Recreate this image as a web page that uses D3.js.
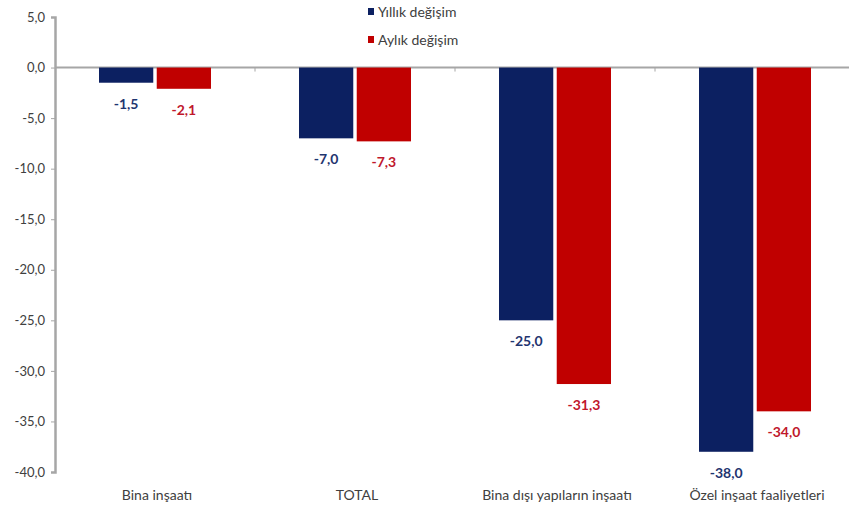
<!DOCTYPE html>
<html><head><meta charset="utf-8">
<script src="https://cdn.jsdelivr.net/npm/d3@7"></script>
<style>body{margin:0;background:#fff}svg{display:block}</style>
</head><body>
<svg id="chart" width="849" height="511"></svg>
<script>
const categories = ["Bina inşaatı", "TOTAL", "Bina dışı yapıların inşaatı", "Özel inşaat faaliyetleri"];
const seriesNames = ["Yıllık değişim", "Aylık değişim"];
const yillik = [-1.5, -7.0, -25.0, -38.0];
const aylik = [-2.1, -7.3, -31.3, -34.0];
const yTicks = [5, 0, -5, -10, -15, -20, -25, -30, -35, -40];
const colors = ["#0c2061", "#c00000"];
const labelColors = ["#1f3570", "#c0182c"];

const svg = d3.select("#chart");
const font = "Lato, 'Open Sans', sans-serif";
const x = d3.scaleBand().domain(categories).range([55, 855]);
const y = d3.scaleLinear().domain([-40, 5]).range([472, 17]);
const xs = d3.scaleBand().domain(seriesNames).range([0, 112]).paddingInner(0.06);
const off = (x.bandwidth() - 112) / 2;
const fmt = d => d3.format(".1f")(d).replace(".", ",").replace("−", "-");

// zero line
svg.append("line").attr("x1", 55).attr("x2", 849).attr("y1", y(0)).attr("y2", y(0))
  .attr("stroke", "#a6a6a6").attr("stroke-width", 2);
categories.slice(1).forEach(c => {
  svg.append("line").attr("x1", x(c)).attr("x2", x(c)).attr("y1", y(0)).attr("y2", y(0) + 4)
    .attr("stroke", "#a6a6a6").attr("stroke-width", 1);
});

// y axis
const yAxis = d3.axisLeft(y).tickValues(yTicks).tickSize(4).tickPadding(6).tickFormat(fmt);
const gy = svg.append("g").attr("transform", "translate(55,0)").call(yAxis);
gy.select(".domain").attr("stroke", "#a6a6a6").attr("stroke-width", 2.5);
gy.selectAll(".tick line").attr("stroke", "#a6a6a6");
gy.selectAll(".tick text").attr("fill", "#404040").style("font-family", font).style("font-size", "13px");

const data = [yillik, aylik];
data.forEach((vals, si) => {
  const g = svg.append("g");
  g.selectAll("rect").data(vals).enter().append("rect")
    .attr("x", (d, i) => x(categories[i]) + off + xs(seriesNames[si]))
    .attr("width", xs.bandwidth())
    .attr("y", y(0))
    .attr("height", d => y(d) - y(0))
    .attr("fill", colors[si]);
  g.selectAll("text").data(vals).enter().append("text")
    .attr("x", (d, i) => x(categories[i]) + off + xs(seriesNames[si]) + xs.bandwidth() / 2)
    .attr("y", d => y(d) + 26)
    .attr("text-anchor", "middle")
    .attr("fill", labelColors[si])
    .style("font-family", font).style("font-size", "14px").style("font-weight", "bold")
    .text(fmt);
});

// category labels
svg.append("g").selectAll("text").data(categories).enter().append("text")
  .attr("x", d => x(d) + x.bandwidth() / 2 + 2)
  .attr("y", 500)
  .attr("text-anchor", "middle")
  .attr("fill", "#404040")
  .style("font-family", font).style("font-size", "14px")
  .text(d => d);

// legend
const lg = svg.append("g");
seriesNames.forEach((s, i) => {
  lg.append("rect").attr("x", 368).attr("y", 8 + i * 28).attr("width", 6).attr("height", 7).attr("fill", colors[i]);
  lg.append("text").attr("x", 378).attr("y", 17 + i * 28).attr("fill", "#404040")
    .style("font-family", font).style("font-size", "14px").text(s);
});
</script>
</body></html>
